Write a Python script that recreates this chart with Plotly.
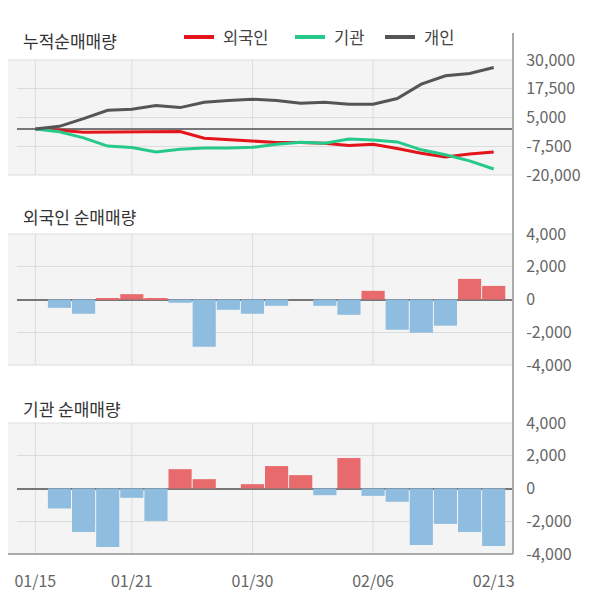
import numpy as np
import plotly.graph_objects as go

# ---------------------------------------------------------------------------
# Data
# ---------------------------------------------------------------------------
DATES = ["01/15", "01/16", "01/17", "01/20", "01/21", "01/22", "01/23", "01/28",
         "01/29", "01/30", "01/31", "02/03", "02/04", "02/05", "02/06", "02/07",
         "02/10", "02/11", "02/12", "02/13"]
TICK_DATES = ["01/15", "01/21", "01/30", "02/06", "02/13"]
GRID_DATES = ["01/15", "01/21", "01/30", "02/06"]

FOREIGN_DAILY = [0, -510, -870, 80, 325, 80, -200, -2880, -630, -870,
                 -385, 0, -385, -935, 530, -1850, -2030, -1600, 1260, 830]
INST_DAILY = [0, -1220, -2650, -3570, -570, -1980, 1180, 570, 0, 265,
              1370, 815, -410, 1860, -450, -815, -3450, -2160, -2650, -3510]
INDIV_CUM = [0, 1160, 4500, 8140, 8580, 10170, 9300, 11630, 12350, 12940,
             12350, 11190, 11630, 10760, 10760, 13230, 19480, 23110, 24130, 26740]

CUM_TICKS = [-20000, -7500, 5000, 17500, 30000]
CUM_TICKTEXT = ["-20,000", "-7,500", "5,000", "17,500", "30,000"]
BAR_TICKS = [-4000, -2000, 0, 2000, 4000]
BAR_TICKTEXT = ["-4,000", "-2,000", "0", "2,000", "4,000"]

# ---------------------------------------------------------------------------
# Style
# ---------------------------------------------------------------------------
FONT = "Noto Sans CJK KR, Noto Sans, sans-serif"
RED = "#e3141c"
GREEN = "#27c98b"
DARK = "#555555"
BAR_UP = "#e86a6c"
BAR_DOWN = "#8fbde0"
BG = "#f4f4f4"
GRID = "#dcdcdc"
AXIS = "#aaaaaa"

# the page body adds an 8px margin, so positions below are page px minus 8
OFF = 8
W, H = 600, 604
X0, X1 = 17 - OFF, 513 - OFF
PANELS = [(60 - OFF, 175 - OFF), (234 - OFF, 365 - OFF), (423 - OFF, 554 - OFF)]


def py(px):
    return 1 - px / H


def ydom(top, bottom):
    return [py(bottom), py(top)]


x = list(range(len(DATES)))
foreign_cum = np.cumsum(FOREIGN_DAILY)
inst_cum = np.cumsum(INST_DAILY)

fig = go.Figure()

fig.add_trace(go.Scatter(x=x, y=foreign_cum, name="외국인", mode="lines",
                         line=dict(color=RED, width=3), xaxis="x", yaxis="y"))
fig.add_trace(go.Scatter(x=x, y=inst_cum, name="기관", mode="lines",
                         line=dict(color=GREEN, width=3), xaxis="x", yaxis="y"))
fig.add_trace(go.Scatter(x=x, y=INDIV_CUM, name="개인", mode="lines",
                         line=dict(color=DARK, width=3), xaxis="x", yaxis="y"))

fig.add_trace(go.Bar(x=x, y=FOREIGN_DAILY,
                     marker=dict(color=[BAR_UP if v > 0 else BAR_DOWN for v in FOREIGN_DAILY],
                                 line_width=0),
                     xaxis="x2", yaxis="y2"))
fig.add_trace(go.Bar(x=x, y=INST_DAILY,
                     marker=dict(color=[BAR_UP if v > 0 else BAR_DOWN for v in INST_DAILY],
                                 line_width=0),
                     xaxis="x3", yaxis="y3"))

xrange = [-0.76, 19.8]
xdom = [X0 / W, X1 / W]
common_x = dict(range=xrange, domain=xdom, showgrid=False, zeroline=False,
                tickvals=[DATES.index(d) for d in TICK_DATES], ticktext=TICK_DATES,
                tickfont=dict(size=16, color="#666666"), fixedrange=True)

common_y = dict(side="right", showgrid=True, gridcolor=GRID, gridwidth=1,
                zeroline=True, zerolinecolor="#777777", zerolinewidth=2,
                tickfont=dict(size=16, color="#666666"),
                ticks="outside", ticklen=9, tickcolor="rgba(0,0,0,0)",
                showline=False, fixedrange=True)

fig.update_layout(
    width=W, height=H,
    margin=dict(l=0, r=0, t=0, b=0, autoexpand=False),
    paper_bgcolor="white",
    plot_bgcolor=BG,
    font=dict(family=FONT, color="#444444"),
    bargap=0.04,
    showlegend=False,
    xaxis=dict(**common_x, anchor="y", showticklabels=False),
    xaxis2=dict(**common_x, anchor="y2", showticklabels=False),
    xaxis3=dict(**common_x, anchor="y3", showticklabels=True,
                ticks="outside", ticklen=13, tickcolor="rgba(0,0,0,0)"),
    yaxis=dict(**common_y, domain=ydom(*PANELS[0]), anchor="x",
               range=[-20000, 30000], tickvals=CUM_TICKS, ticktext=CUM_TICKTEXT),
    yaxis2=dict(**common_y, domain=ydom(*PANELS[1]), anchor="x2",
                range=[-4000, 4000], tickvals=BAR_TICKS, ticktext=BAR_TICKTEXT),
    yaxis3=dict(**common_y, domain=ydom(*PANELS[2]), anchor="x3",
                range=[-4000, 4000], tickvals=BAR_TICKS, ticktext=BAR_TICKTEXT),
)

shapes = []
for i, (top, bottom) in enumerate(PANELS):
    xr = "x" if i == 0 else f"x{i + 1}"
    yr = "y" if i == 0 else f"y{i + 1}"
    d = ydom(top, bottom)
    # grey background extends to the left page edge
    shapes.append(dict(type="rect", xref="paper", yref="paper", x0=0, x1=X0 / W,
                       y0=d[0], y1=d[1], fillcolor=BG, line_width=0, layer="below"))
    # top and bottom border lines
    for yy in d:
        shapes.append(dict(type="line", xref="paper", yref="paper", x0=0, x1=X1 / W,
                           y0=yy, y1=yy, line=dict(color=GRID, width=1)))
    # vertical grid lines
    for g in GRID_DATES:
        gi = DATES.index(g)
        shapes.append(dict(type="line", xref=xr, yref=f"{yr} domain", x0=gi, x1=gi,
                           y0=0, y1=1, line=dict(color=GRID, width=1), layer="below"))
# bottom axis line of the last panel
shapes.append(dict(type="line", xref="paper", yref="paper", x0=0, x1=X1 / W,
                   y0=py(PANELS[2][1]), y1=py(PANELS[2][1]), line=dict(color=AXIS, width=2)))
# right axis line spanning all panels
shapes.append(dict(type="line", xref="paper", yref="paper", x0=X1 / W, x1=X1 / W,
                   y0=py(PANELS[2][1]), y1=py(33 - OFF), line=dict(color=AXIS, width=2)))

# hand-made legend: line sample + label
legend_items = [("외국인", RED, 184), ("기관", GREEN, 295), ("개인", DARK, 385)]
for name, color, lx in legend_items:
    lx -= OFF
    shapes.append(dict(type="line", xref="paper", yref="paper",
                       x0=lx / W, x1=(lx + 30) / W, y0=py(37 - OFF), y1=py(37 - OFF),
                       line=dict(color=color, width=4)))
    fig.add_annotation(text=name, xref="paper", yref="paper", x=(lx + 37) / W,
                       y=py(37 - OFF), xanchor="left", yanchor="middle", showarrow=False,
                       font=dict(size=16.5, color="#444444", family=FONT))
fig.update_layout(shapes=shapes)

titles = [("누적순매매량", 40), ("외국인 순매매량", 217), ("기관 순매매량", 408)]
for text, ypx in titles:
    fig.add_annotation(text=text, xref="paper", yref="paper", x=(21 - OFF) / W,
                       y=py(ypx - OFF), xanchor="left", yanchor="middle", showarrow=False,
                       font=dict(size=17, color="#333333", family=FONT))

fig.write_html("out.html")
